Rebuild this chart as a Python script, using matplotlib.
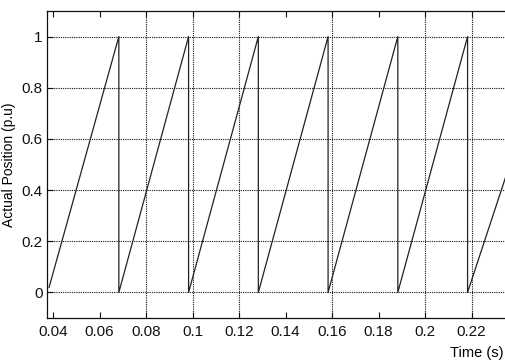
import matplotlib
matplotlib.use("Agg")
import matplotlib.pyplot as plt

# sawtooth: ramp 0 -> 1, then sharp reset at each drop
time_s = [0.0383, 0.0683, 0.0683, 0.0983, 0.0983, 0.1283, 0.1283, 0.1583,
          0.1583, 0.1883, 0.1883, 0.2183, 0.2183, 0.2350]
position_pu = [0.02, 1.0, 0.0, 1.0, 0.0, 1.0, 0.0, 1.0,
               0.0, 1.0, 0.0, 1.0, 0.0, 0.46]

x_ticks = [0.04, 0.06, 0.08, 0.1, 0.12, 0.14, 0.16, 0.18, 0.2, 0.22]
x_tick_labels = ["0.04", "0.06", "0.08", "0.1", "0.12", "0.14", "0.16", "0.18", "0.2", "0.22"]
x_grid = [0.08, 0.1, 0.12, 0.16, 0.2, 0.22]
y_ticks = [0, 0.2, 0.4, 0.6, 0.8, 1]
y_tick_labels = ["0", "0.2", "0.4", "0.6", "0.8", "1"]

plt.rcParams["font.family"] = ["Liberation Sans", "DejaVu Sans"]

fig = plt.figure(figsize=(5.05, 3.62), dpi=100)
ax = fig.add_axes([47 / 505, 1 - 318 / 362, 1 - 47 / 505, (318 - 11) / 362])

ax.plot(time_s, position_pu, color="#222222", lw=0.9)

ax.set_xlim(0.0374, 0.2344)
ax.set_ylim(-0.1, 1.1)
ax.set_xticks(x_ticks)
ax.set_xticklabels(x_tick_labels)
ax.set_yticks(y_ticks)
ax.set_yticklabels(y_tick_labels)
ax.tick_params(direction="in", length=4, width=0.8, labelsize=11, pad=5,
               top=True, right=False, colors="#111111")
ax.tick_params(axis="y", pad=3)

ax.grid(axis="y", linestyle=(0, (1, 1)), color="#111111", lw=0.8)
for gx in x_grid:
    ax.axvline(gx, linestyle=(0, (1, 1)), color="#111111", lw=0.8, zorder=0.5)

for side in ["left", "bottom", "top"]:
    ax.spines[side].set_linewidth(0.9)
    ax.spines[side].set_color("#111111")
ax.spines["right"].set_visible(False)

ax.set_ylabel("Actual Position (p.u)", fontsize=10, labelpad=4)
fig.text(503 / 505, 1 - 353 / 362, "Time (s)", ha="right", va="center", fontsize=10.5)

fig.savefig("out.png", dpi=100)
